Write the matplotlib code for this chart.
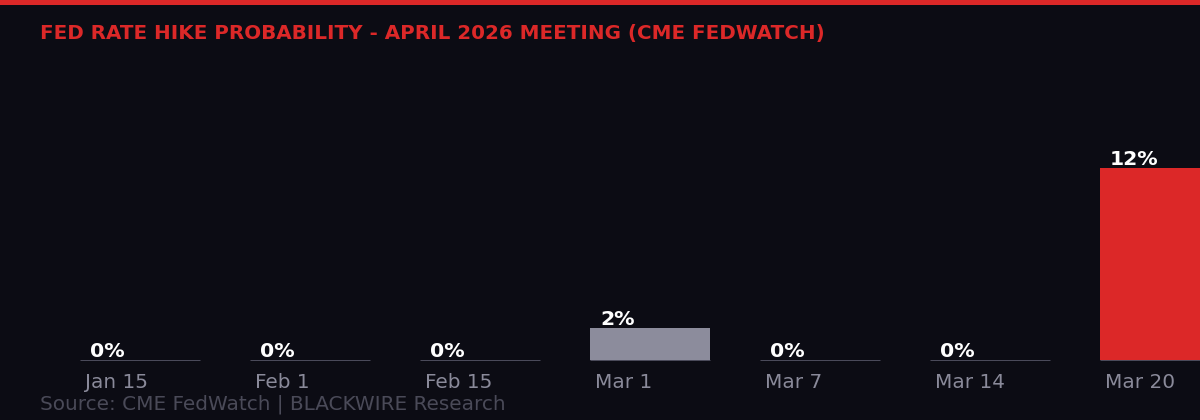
import matplotlib
matplotlib.use("Agg")
import matplotlib.pyplot as plt
import matplotlib.transforms as mtransforms
from matplotlib.patches import Rectangle

dates = ["Jan 15", "Feb 1", "Feb 15", "Mar 1", "Mar 7", "Mar 14", "Mar 20"]
probs = [0, 0, 0, 2, 0, 0, 12]
bar_colors = ["#8c8c9c", "#8c8c9c", "#8c8c9c", "#8c8c9c", "#8c8c9c", "#8c8c9c", "#dc2828"]

title = "FED RATE HIKE PROBABILITY - APRIL 2026 MEETING (CME FEDWATCH)"
source = "Source: CME FedWatch | BLACKWIRE Research"

BG = "#0c0c14"
RED = "#dc2828"

W, H = 1200, 420
fig = plt.figure(figsize=(W / 100, H / 100), dpi=100, facecolor=BG)

# top stripe
fig.patches.append(Rectangle((0, 1 - 5 / H), 1, 5 / H, transform=fig.transFigure,
                             facecolor=RED, edgecolor="none", zorder=5))

# axes covering full width; baseline at 60px from bottom
ax = fig.add_axes([0, 60 / H, 1, 300 / H])
ax.set_facecolor(BG)
for s in ax.spines.values():
    s.set_visible(False)
ax.set_xticks([])
ax.set_yticks([])

step = 170.0
bw = 120 / step
x0 = 80 / step
ax.set_xlim(-x0, (W - 80) / step)
ax.set_ylim(0, 300 / 16)

xs = list(range(len(dates)))
base_tr = mtransforms.offset_copy(ax.transData, fig=fig, x=0, y=0.5, units="dots")
ax.hlines([0] * len(xs), [x for x in xs], [x + bw for x in xs],
          colors="#4a4a5a", linewidth=0.72, zorder=1, transform=base_tr,
          clip_on=False)
ax.bar(xs, probs, width=bw, align="edge", color=bar_colors, edgecolor="none", zorder=2)

for x, p in zip(xs, probs):
    tr = mtransforms.offset_copy(ax.transData, fig=fig, x=10, y=3, units="dots")
    ax.text(x, p, f"{p}%", transform=tr, ha="left", va="baseline",
            color="white", fontsize=14.7, fontweight="bold", clip_on=False, zorder=3)
    trl = mtransforms.offset_copy(
        mtransforms.blended_transform_factory(ax.transData, fig.transFigure),
        fig=fig, x=5, y=0, units="dots")
    fig.text(x, 32 / H, dates[x], transform=trl, ha="left",
             va="baseline", color="#8a8a9a", fontsize=14.4)

fig.text(40 / W, 1 - 39 / H, title, ha="left", va="baseline", color=RED,
         fontsize=14.3, fontweight="bold")
fig.text(40 / W, 1 - 410 / H, source, ha="left", va="baseline", color="#4a4a58",
         fontsize=14.4)

fig.savefig("out.png", dpi=100, facecolor=BG)
